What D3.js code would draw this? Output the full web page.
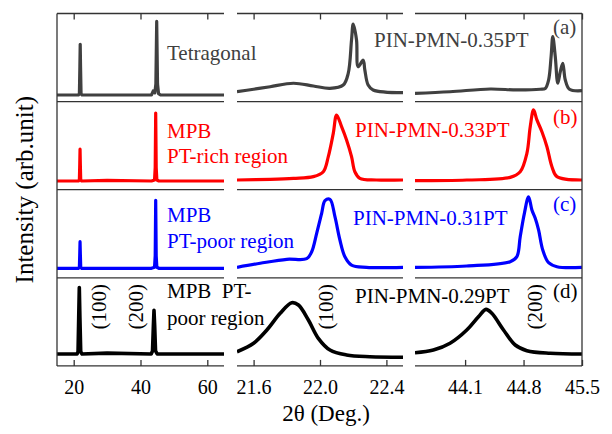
<!DOCTYPE html>
<html>
<head>
<meta charset="utf-8">
<script src="https://cdn.jsdelivr.net/npm/d3@7"></script>
<style>
  body { margin: 0; background: #fff; }
  svg { font-family: "Liberation Serif", "Times New Roman", serif; }
</style>
</head>
<body>
<svg id="xrd"></svg>
<script>
// 2theta ranges of the three broken-axis segments and their ticks
const segDomains = [[15, 65], [21.5, 22.5], [43.5, 45.5]];
const segTicks = [[20, 40, 60], [21.6, 22.0, 22.4], [44.1, 44.8, 45.5]];

const rowColors = ["#404040", "#ff0000", "#0000ff", "#000000"];
const compositions = ["PIN-PMN-0.35PT", "PIN-PMN-0.33PT", "PIN-PMN-0.31PT", "PIN-PMN-0.29PT"];
const panelLetters = ["(a)", "(b)", "(c)", "(d)"];
const phaseLabels = [["Tetragonal"], ["MPB", "PT-rich region"], ["MPB", "PT-poor region"], ["MPB  PT-", "poor region"]];

// [2theta, intensity 0-100 per row]
const wide35 = [[15,7.5],[21.4,7.5],[21.7,9],[21.85,40],[21.95,65],[22.05,40],[22.2,9],[22.5,7.5],[43.3,7.5],[43.8,12],[44.3,10],[44.6,20],[44.85,91],[45.1,20],[45.4,9],[46,7.5],[65,7.5]];
const p100_35 = [[21.5,11.2],[21.6,14],[21.7,16.9],[21.84,20.8],[21.96,17.7],[22.06,15.1],[22.14,18.8],[22.17,32],[22.19,70],[22.2,88],[22.22,70],[22.23,39.6],[22.26,47],[22.27,36],[22.29,18.8],[22.32,13.2],[22.5,10.1]];
const p200_35 = [[43.5,9.4],[43.92,11.2],[44.4,14.3],[44.72,13.2],[45.0,14],[45.06,15],[45.1,24.5],[45.13,51],[45.15,73.7],[45.18,51],[45.21,20.8],[45.24,34],[45.27,43.5],[45.3,24.5],[45.35,14],[45.5,12.4]];

const wide33 = [[15,9.9],[21.4,9.9],[21.7,11],[21.82,30],[21.9,46],[21.98,30],[22.1,11],[22.4,9.9],[30,10.5],[43.3,9.9],[44.2,11],[44.4,25],[44.55,87],[44.7,25],[44.9,11],[45.5,9.9],[65,9.9]];
const p100_33 = [[21.5,11],[21.7,11.8],[21.84,12.9],[21.96,14.8],[22.02,20.4],[22.05,37.5],[22.08,64],[22.1,84.8],[22.13,71.5],[22.16,56.4],[22.19,37.5],[22.21,20.4],[22.24,12.9],[22.34,11],[22.5,11]];
const p200_33 = [[43.5,10.2],[44.12,11],[44.64,14],[44.76,20.4],[44.84,41.3],[44.88,71.5],[44.92,90.5],[44.96,79.2],[45.02,65.8],[45.08,48.8],[45.14,26.1],[45.2,14.8],[45.5,11]];

const wide31 = [[15,10.8],[21.4,10.8],[21.7,12],[21.82,28],[21.9,41],[21.98,28],[22.1,12],[22.4,10.8],[43.3,10.8],[44.2,12],[44.4,25],[44.55,88],[44.7,25],[44.9,12],[45.5,10.8],[65,10.8]];
const p100_31 = [[21.5,11.9],[21.64,16.5],[21.8,21],[21.92,21.7],[21.95,29.6],[21.98,50.5],[22.01,73.2],[22.03,87.5],[22.06,89.1],[22.09,69.4],[22.12,42.9],[22.15,24],[22.19,14.5],[22.28,11.9],[22.5,11.9]];
const p200_31 = [[43.5,11.9],[44.12,13.4],[44.64,18.3],[44.72,24],[44.76,46.7],[44.81,73.2],[44.86,92],[44.9,77],[44.94,67.5],[44.98,54.3],[45.03,31.6],[45.1,17.1],[45.2,12.6],[45.5,11.9]];

const wide29 = [[15,13.5],[21.0,13.5],[21.3,16],[21.5,55],[21.68,89],[21.86,55],[22.1,16],[22.5,13.5],[30,14.5],[43.2,13.5],[43.6,17],[43.85,45],[44.04,63],[44.25,45],[44.5,17],[45,13.5],[65,13.5]];
const p100_29 = [[21.5,16.1],[21.6,25.7],[21.68,40.7],[21.76,59.7],[21.83,71.7],[21.87,69.1],[21.93,52.1],[21.99,31.3],[22.06,18],[22.16,12.4],[22.3,10.4],[22.5,9.8]];
const p200_29 = [[43.5,15],[43.72,18],[43.92,25.7],[44.12,40.7],[44.26,55.8],[44.35,64.2],[44.42,59.7],[44.56,40.7],[44.7,23.7],[44.84,17.3],[45.12,14.3],[45.5,13.5]];

const rowSeries = [
  [wide35, p100_35, p200_35],
  [wide33, p100_33, p200_33],
  [wide31, p100_31, p200_31],
  [wide29, p100_29, p200_29]
];

// Miller index labels: text, segment, 2theta where the rotated label sits
const hklLabels = [["(100)", 0, 29.7], ["(200)", 0, 40.7], ["(100)", 1, 22.08], ["(200)", 2, 45.02]];

function main() {
  const W = 612, H = 434;
  const top = 13.5, rowH = 88.1;
  const segRanges = [[57, 224], [237, 403], [415, 582]];
  const bottom = top + 4 * rowH;
  const frame = "#333333";

  const svg = d3.select("#xrd").attr("width", W).attr("height", H);

  const xs = segDomains.map((d, i) => d3.scaleLinear().domain(d).range(segRanges[i]));
  const ys = rowColors.map((c, r) => d3.scaleLinear().domain([0, 100]).range([top + (r + 1) * rowH, top + r * rowH]));

  // clip paths per segment
  const defs = svg.append("defs");
  segRanges.forEach((rg, i) => {
    defs.append("clipPath").attr("id", "seg" + i)
      .append("rect").attr("x", rg[0]).attr("y", top).attr("width", rg[1] - rg[0]).attr("height", bottom - top);
  });

  // data lines
  rowSeries.forEach((series, r) => {
    series.forEach((data, s) => {
      const line = d3.line().x(d => xs[s](d[0])).y(d => ys[r](d[1])).curve(s === 0 ? d3.curveLinear : d3.curveCatmullRom);
      svg.append("path")
        .datum(data)
        .attr("clip-path", "url(#seg" + s + ")")
        .attr("fill", "none")
        .attr("stroke", rowColors[r])
        .attr("stroke-width", r === 3 ? 3.6 : 3.2)
        .attr("stroke-linejoin", "round")
        .attr("d", line);
    });
  });

  // horizontal row boundaries per segment
  for (let r = 0; r <= 4; r++) {
    segRanges.forEach(rg => {
      svg.append("line")
        .attr("x1", rg[0]).attr("x2", rg[1])
        .attr("y1", top + r * rowH).attr("y2", top + r * rowH)
        .attr("stroke", frame).attr("stroke-width", 1.3);
    });
  }
  // outer vertical edges
  [segRanges[0][0], segRanges[2][1]].forEach(x => {
    svg.append("line").attr("x1", x).attr("x2", x).attr("y1", top).attr("y2", bottom)
      .attr("stroke", frame).attr("stroke-width", 1.3);
  });

  // axes
  xs.forEach((x, i) => {
    const fmt = i === 0 ? d3.format("d") : d3.format(".1f");
    const axB = d3.axisBottom(x).tickValues(segTicks[i]).tickFormat(fmt).tickSize(-6).tickSizeOuter(0).tickPadding(14);
    const gB = svg.append("g").attr("transform", "translate(0," + bottom + ")").call(axB);
    gB.select(".domain").remove();
    gB.selectAll(".tick line").attr("stroke", frame).attr("stroke-width", 1.3);
    gB.selectAll(".tick text").attr("font-family", "Liberation Serif").attr("font-size", 20).attr("fill", "#000");

    const axT = d3.axisTop(x).tickValues(segTicks[i]).tickFormat("").tickSize(-6).tickSizeOuter(0);
    const gT = svg.append("g").attr("transform", "translate(0," + top + ")").call(axT);
    gT.select(".domain").remove();
    gT.selectAll(".tick line").attr("stroke", frame).attr("stroke-width", 1.3);
  });

  // annotations
  const phaseY = [[46.5], [36.4, 61.4], [32, 58.3], [20.2, 47.2]];
  const compX = [374, 355, 353, 355];
  const compY = [33.2, 35.1, 35.3, 25.2];
  const letterY = [20.5, 22.4, 21.2, 20.2];
  rowColors.forEach((c, r) => {
    const rt = top + r * rowH;
    phaseLabels[r].forEach((t, k) => {
      svg.append("text").attr("x", 167).attr("y", rt + phaseY[r][k])
        .attr("font-size", 21).attr("fill", c).attr("xml:space", "preserve").style("white-space", "pre").text(t);
    });
    svg.append("text").attr("x", compX[r]).attr("y", rt + compY[r])
      .attr("font-size", 21).attr("fill", c).text(compositions[r]);
    svg.append("text").attr("x", 553).attr("y", rt + letterY[r])
      .attr("font-size", 21).attr("fill", c).text(panelLetters[r]);
  });

  // Miller indices, rotated
  hklLabels.forEach(h => {
    const x = xs[h[1]](h[2]);
    svg.append("text")
      .attr("transform", "translate(" + x + "," + (top + 3 * rowH + 29) + ") rotate(-90)")
      .attr("text-anchor", "middle").attr("font-size", 21).attr("fill", "#000").text(h[0]);
  });

  // axis titles
  svg.append("text")
    .attr("transform", "translate(33," + (top + 2 * rowH) + ") rotate(-90)")
    .attr("text-anchor", "middle").attr("font-size", 25).attr("fill", "#000")
    .text("Intensity (arb.unit)");
  svg.append("text")
    .attr("x", 326).attr("y", 421)
    .attr("text-anchor", "middle").attr("font-size", 23).attr("fill", "#000")
    .text("2θ (Deg.)");
}

main();
</script>
</body>
</html>
